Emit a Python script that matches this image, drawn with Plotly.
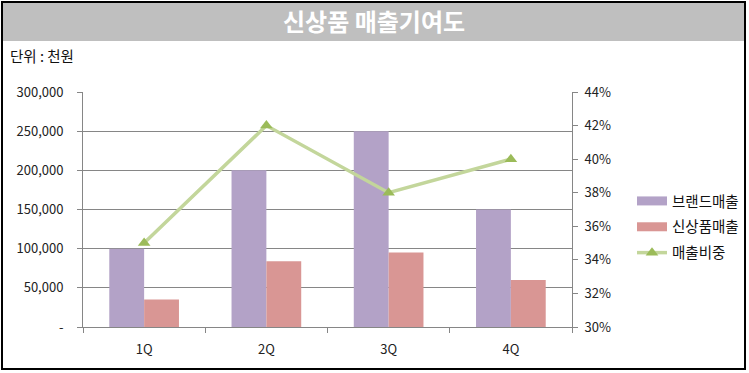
import plotly.graph_objects as go

categories = ["1Q", "2Q", "3Q", "4Q"]
brand_sales = [100000, 200000, 250000, 150000]
new_sales = [35000, 84000, 95000, 60000]
new_ratio = [0.35, 0.42, 0.38, 0.40]
left_ticks = [0, 50000, 100000, 150000, 200000, 250000, 300000]
left_tick_text = ["-", "50,000", "100,000", "150,000", "200,000", "250,000", "300,000"]

FONT = "Noto Sans CJK KR"
W, H = 749, 373
L, R, T, B = 83, 177, 92, 46
PW, PH = W - L - R, H - T - B

def px_x(x):
    return (x - L) / PW

def px_y(y):
    return (H - B - y) / PH

BRAND_C = "#B3A2C7"
NEW_C = "#D99694"

fig = go.Figure()
fig.add_trace(go.Bar(x=categories, y=brand_sales, name="브랜드매출", showlegend=False,
                     marker=dict(color=BRAND_C, line=dict(width=0))))
fig.add_trace(go.Bar(x=categories, y=new_sales, name="신상품매출", showlegend=False,
                     marker=dict(color=NEW_C, line=dict(width=0))))
# legend-only entries drawn as wide swatches like the reference
fig.add_trace(go.Scatter(x=[None], y=[None], name="브랜드매출", mode="lines",
                         legendgroup="a", line=dict(color=BRAND_C, width=9)))
fig.add_trace(go.Scatter(x=[None], y=[None], name="신상품매출", mode="lines",
                         legendgroup="b", line=dict(color=NEW_C, width=9)))
fig.add_trace(go.Scatter(x=categories, y=new_ratio, name="매출비중", yaxis="y2",
                         mode="lines+markers", legendgroup="c",
                         line=dict(color="#C3D69B", width=3.5),
                         marker=dict(symbol="triangle-up", size=11, color="#9BBB59")))

fig.update_layout(
    width=W, height=H,
    margin=dict(l=L, r=R, t=T, b=B, autoexpand=False),
    paper_bgcolor="white", plot_bgcolor="white",
    font=dict(family=FONT, size=13, color="#222222"),
    barmode="group", bargap=0.43, bargroupgap=0,
    showlegend=True,
    legend=dict(x=px_x(632), y=px_y(227), xanchor="left", yanchor="middle",
                font=dict(family=FONT, size=14.5, color="#111111"),
                bgcolor="rgba(0,0,0,0)", tracegroupgap=4, itemwidth=30),
    xaxis=dict(type="category", showline=True, linecolor="#868686", linewidth=1,
               ticks="outside", tickson="boundaries", ticklen=5, tickcolor="#868686",
               showgrid=False, ticklabelstandoff=10, automargin=False,
               tickfont=dict(size=13, color="#222222")),
    yaxis=dict(range=[0, 300000], tickvals=left_ticks, ticktext=left_tick_text,
               showline=True, linecolor="#868686", linewidth=1,
               ticks="outside", ticklen=5, tickcolor="#868686",
               showgrid=True, gridcolor="#868686", gridwidth=1,
               zeroline=False, ticklabelstandoff=11, automargin=False,
               tickfont=dict(size=13, color="#222222")),
    yaxis2=dict(range=[0.30, 0.44], dtick=0.02, tickformat=".0%", overlaying="y",
                side="right", showline=True, linecolor="#868686", linewidth=1,
                ticks="outside", ticklen=5, tickcolor="#868686",
                showgrid=False, zeroline=False, ticklabelstandoff=4, automargin=False,
                tickfont=dict(size=13, color="#222222")),
    shapes=[
        dict(type="rect", xref="paper", yref="paper",
             x0=px_x(3), x1=px_x(744), y0=px_y(41), y1=px_y(2),
             fillcolor="#BFBFBF", line=dict(width=0), layer="below"),
        dict(type="rect", xref="paper", yref="paper",
             x0=px_x(2), x1=px_x(745), y0=px_y(369), y1=px_y(2),
             fillcolor="rgba(0,0,0,0)", line=dict(color="black", width=2)),
    ],
    annotations=[
        dict(text="<b>신상품 매출기여도</b>", xref="paper", yref="paper",
             x=px_x(374), y=px_y(21),
             xanchor="center", yanchor="middle", showarrow=False,
             font=dict(family=FONT, size=24, color="white")),
        dict(text="단위 : 천원", xref="paper", yref="paper",
             x=px_x(8), y=px_y(55),
             xanchor="left", yanchor="middle", showarrow=False,
             font=dict(family=FONT, size=14.5, color="#111111")),
    ],
)

fig.write_html("out.html", config={"displayModeBar": False},
               post_script="document.body.style.margin='0';document.body.style.padding='0';")
